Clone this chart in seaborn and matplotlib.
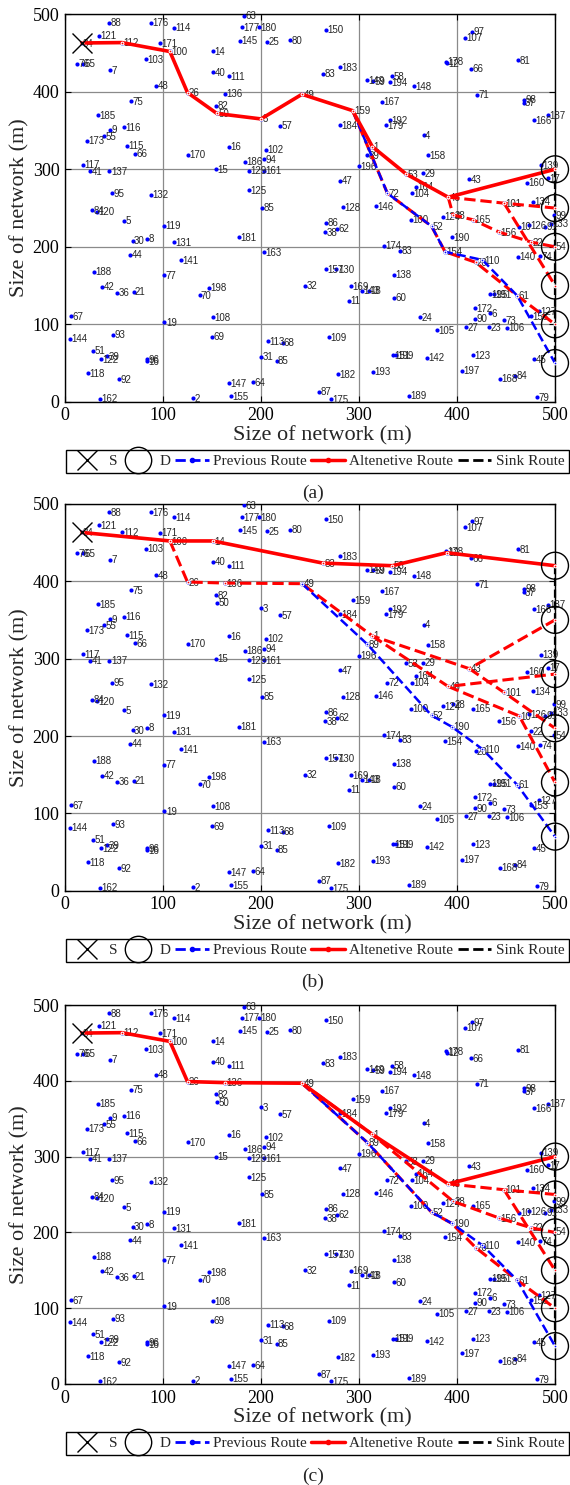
import matplotlib
matplotlib.use("Agg")
import matplotlib.pyplot as plt
import pandas as pd
import seaborn as sns
from matplotlib.lines import Line2D

sns.set_theme(style="ticks")
plt.rcParams["font.family"] = ["Liberation Serif", "DejaVu Serif"]
plt.rcParams["axes.edgecolor"] = "black"
plt.rcParams["axes.linewidth"] = 1.0

# ---- sensor nodes (id, x [m], y [m]) ----
node_ids = [
    "63", "88", "176", "114", "177", "180", "150", "97", "121", "107", "80", "145", "25", "34", "112",
    "171", "100", "14", "103", "81", "178", "12", "76", "65", "183", "66", "7", "40", "83", "111", "58",
    "149", "59", "194", "148", "48", "26", "136", "49", "71", "98", "75", "167", "37", "82", "159", "50",
    "185", "187", "3", "166", "192", "184", "179", "57", "116", "9", "4", "55", "173", "115", "1", "16",
    "102", "66", "170", "89", "158", "94", "186", "117", "139", "196", "15", "129", "161", "41", "137",
    "29", "53", "17", "43", "47", "160", "164", "125", "95", "104", "72", "132", "46", "134", "101",
    "146", "128", "85", "84", "120", "28", "99", "124", "100", "165", "5", "86", "133", "126", "119",
    "52", "91", "10", "62", "38", "156", "190", "181", "8", "30", "22", "131", "174", "54", "83", "154",
    "163", "44", "74", "140", "141", "110", "20", "157", "130", "188", "138", "77", "32", "169", "42",
    "198", "143", "18", "21", "36", "195", "191", "70", "61", "60", "11", "172", "127", "6", "153", "67",
    "24", "108", "90", "73", "19", "27", "23", "106", "105", "93", "69", "109", "144", "113", "68", "51",
    "151", "199", "123", "39", "31", "142", "122", "96", "45", "85", "16", "197", "193", "118", "182",
    "84", "168", "92", "64", "147", "87", "189", "155", "79", "2", "162", "175",
]
node_x = [
    183, 45, 88, 111.6, 181, 198, 266, 415, 34.5, 408.5, 229.6, 179, 206.5, 17, 58,
    96.6, 107, 151, 82.6, 462, 388.4, 389.5, 12.6, 18.8, 281, 414, 46, 151, 263, 167.6, 334,
    308.5, 314, 331.6, 356, 93, 125, 162.8, 241.8, 420, 468.7, 67, 323.8, 468, 154, 293.5, 155,
    33.4, 493, 200, 478.6, 331.6, 281, 327.6, 219.4, 60, 46, 366, 40, 22, 63.5, 313.6, 167,
    205, 71.7, 125, 308.5, 370.7, 203, 184, 18, 486, 300, 154, 187.7, 203, 25.6, 45.4,
    365.6, 348, 493, 412.6, 280.6, 471, 358, 187.7, 48, 354, 329, 88, 391, 477.9, 448,
    317, 284, 201.4, 28, 32.7, 396, 499, 386, 353.4, 416, 60.6, 266.3, 496, 473, 100.9,
    374, 490, 463.6, 278, 265.3, 443, 394.6, 177.5, 84, 69, 476, 111, 325.9, 499, 342, 387.8,
    203, 66.4, 484.7, 462.6, 117.9, 426, 419, 266.3, 277, 30, 335.7, 100.9, 245, 292, 38,
    146.8, 302.7, 310.5, 70, 53, 434, 438, 137.3, 461.4, 335.7, 290, 418.4, 484, 434, 475, 6,
    362.6, 150.6, 418.4, 448, 101.5, 409, 432.6, 451, 379.6, 48.7, 150, 269.7, 4.8, 207, 222, 29,
    335, 338, 416.7, 43, 200, 369.7, 36.8, 84, 478.6, 216, 84, 405.4, 314.6, 23, 279,
    459, 443.9, 55.5, 191.8, 167.6, 259, 351.4, 169, 482, 130.8, 36, 271.4,
]
node_y = [
    498, 489, 489, 482.8, 483, 483, 480, 477.6, 472.5, 470, 466.5, 466, 464.7, 463, 463.5,
    462.6, 452, 452, 442, 441, 439, 436.8, 436, 436, 432, 430, 428, 425, 423.4, 420, 420,
    415, 414, 412, 407, 408, 399, 397.6, 396.8, 396.3, 390, 388, 387, 386, 382, 375.7, 372,
    370, 369.7, 365, 363.6, 363.6, 357, 357, 356, 354, 351, 344, 343, 337, 330.5, 329.3, 329,
    325.5, 320, 319, 318.5, 318, 313, 310, 306, 305, 304, 300, 298, 298, 297.4, 297.4,
    294.8, 294, 288.4, 287, 285, 282.8, 277.6, 273, 269, 269, 269, 267, 264, 258, 256.3,
    252, 251, 250.6, 247, 245, 241, 240.8, 238.6, 235, 235, 233.5, 231, 230, 228, 227,
    226.6, 226, 225.8, 223.6, 219, 219, 212, 212, 210.7, 207.7, 206, 205.6, 201.3, 201, 195, 193.6,
    192.7, 190, 188, 187, 183, 183, 180, 171, 171, 167.8, 164, 163, 150, 149.4, 148.5,
    147.2, 143.3, 143.3, 142, 140.8, 138.6, 138.6, 137.8, 137, 134.3, 130.5, 120.6, 117.2, 114, 110.7, 110.3,
    109, 109, 107, 105.6, 102.6, 96, 96, 95.3, 92.7, 86.3, 83.7, 83.3, 81.5, 78, 76.4, 66,
    60, 60, 60, 59, 58, 56.7, 55, 55, 55, 53.2, 52.5, 40.3, 38.6, 37, 35.6,
    33.5, 30, 29, 25, 24, 13, 7.7, 7, 6, 4.3, 4, 3.4,
]

source_id = "34"
sink_x = 500

# ---- destinations on the sink line (y positions) ----
dest_y_a = [300, 250, 200, 150, 100, 50]
dest_y_b = [420, 350, 280, 210, 140, 70]
dest_y_c = [300, 250, 200, 150, 100, 50]

# ---- routes, as sequences of node ids ("D<y>" = destination) ----
alt_solid_a = ["34", "112", "100", "26", "50", "3", "49", "159", "1", "53", "46", "D300"]
alt_dashed_a = [["46", "101", "D250"], ["101", "D150"],
                ["46", "28", "165", "156", "22", "D200"],
                ["159", "72", "52", "154", "20", "61", "D100"]]
prev_a = ["159", "72", "52", "154", "110", "61", "D50"]
sink_a = ["D300", "D50"]

alt_solid_b = ["34", "100", "14", "83", "58", "12", "D420"]
alt_dashed_b = [["100", "26", "136", "49", "1", "43", "D350"], ["43", "101", "D210"],
                ["1", "46", "D280"], ["46", "10", "D140"]]
prev_b = ["49", "89", "52", "190", "110", "61", "D70"]
sink_b = ["D420", "D70"]

alt_solid_c = ["34", "112", "100", "26", "136", "49", "1", "46", "D300"]
alt_dashed_c = [["46", "101", "D250"], ["101", "D150"],
                ["49", "1", "28", "156", "22", "D200"],
                ["49", "89", "52", "190", "20", "61", "D100"]]
prev_c = ["49", "89", "52", "190", "110", "61", "D50"]
sink_c = ["D300", "D50"]

nodes = pd.DataFrame({"id": node_ids, "x": node_x, "y": node_y})
positions = {}
for nid, x, y in zip(node_ids, node_x, node_y):
    positions.setdefault(nid, (x, y))

BLUE = "#0000ff"
RED = "#ff0000"
FIG_W, FIG_H = 570, 1485


def route(ax, lookup, ids, **kw):
    pts = pd.DataFrame([lookup[i] for i in ids], columns=["x", "y"])
    sns.lineplot(data=pts, x="x", y="y", sort=False, estimator=None, ax=ax,
                 clip_on=False, **kw)


def panel(fig, top, bottom, dest_y, solid, dashed, prev, sink, caption):
    ax = fig.add_axes([65 / FIG_W, 1 - bottom / FIG_H, 490 / FIG_W, (bottom - top) / FIG_H])
    h = bottom - top
    lookup = dict(positions)
    for y in dest_y:
        lookup[f"D{y}"] = (sink_x, y)

    ax.grid(True, color="#8a8a8a", linewidth=0.9)
    ax.set_axisbelow(True)

    sns.scatterplot(data=nodes, x="x", y="y", ax=ax, color=BLUE, s=9,
                    linewidth=0, zorder=3, legend=False)
    for nid, x, y in zip(node_ids, node_x, node_y):
        ax.annotate(nid, (x, y), xytext=(1.0, -0.4), textcoords="offset points",
                    fontsize=7, family="Liberation Sans", ha="left", va="center",
                    zorder=4)

    route(ax, lookup, sink, color="black", linewidth=1.6, linestyle="--", zorder=5)
    for d in dashed:
        route(ax, lookup, d, color=RED, linewidth=2.2, linestyle="--",
              marker=".", markersize=4, zorder=6)
    route(ax, lookup, prev, color=BLUE, linewidth=1.8, linestyle="--",
          marker=".", markersize=4, zorder=7)
    route(ax, lookup, solid, color=RED, linewidth=2.6, linestyle="-",
          marker=".", markersize=4, zorder=8)

    ax.scatter([sink_x] * len(dest_y), dest_y, s=376, facecolors="none",
               edgecolors="black", linewidths=1.0, clip_on=False, zorder=9)
    sx, sy = positions[source_id]
    ax.scatter([sx], [sy], marker="x", s=207, color="black", linewidths=1.0,
               clip_on=False, zorder=9)

    ax.set_xlim(0, 500)
    ax.set_ylim(0, 500)
    ax.set_xticks(range(0, 501, 100))
    ax.set_yticks(range(0, 501, 100))
    ax.tick_params(direction="in", length=4, width=0.8, top=True, right=True,
                   labelsize=13, pad=4, colors="black")
    for s in ax.spines.values():
        s.set_visible(True)
        s.set_color("black")

    ax.set_xlabel("Size of network (m)", fontsize=16)
    ax.xaxis.label.set_va("center")
    ax.xaxis.set_label_coords(257 / 490, -34 / h)
    ax.set_ylabel("Size of network (m)", fontsize=16)
    ax.yaxis.label.set_va("center")
    ax.yaxis.set_label_coords(-45 / 490, 0.5)

    handles = [
        Line2D([0], [0], marker="x", color="black", linestyle="none", markersize=15, markeredgewidth=1),
        Line2D([0], [0], marker="o", color="black", linestyle="none", markersize=19,
               markerfacecolor="none", markeredgewidth=1),
        Line2D([0], [0], color=BLUE, linestyle="--", linewidth=2, marker=".", markersize=6),
        Line2D([0], [0], color=RED, linestyle="-", linewidth=2.5, marker=".", markersize=6),
        Line2D([0], [0], color="black", linestyle="--", linewidth=2),
    ]
    labels = ["S", "D", "Previous Route", "Altenetive Route", "Sink Route"]
    leg = fig.legend(handles, labels, loc="center", ncol=5, mode="expand",
                     bbox_to_anchor=(66 / FIG_W, 1 - (bottom + 73) / FIG_H, 503 / FIG_W, 27 / FIG_H),
                     fontsize=11, frameon=True, fancybox=False, edgecolor="black",
                     framealpha=1, borderpad=0.3, handlelength=2.2, handletextpad=0.3,
                     columnspacing=0.5, borderaxespad=0, numpoints=1)
    leg.get_frame().set_linewidth(1.0)

    fig.text(313 / FIG_W, 1 - (bottom + 92) / FIG_H, caption, ha="center", va="center",
             fontsize=14)
    return ax


fig = plt.figure(figsize=(FIG_W / 100, FIG_H / 100), dpi=100)
panel(fig, 14.3, 401.8, dest_y_a, alt_solid_a, alt_dashed_a, prev_a, sink_a, "(a)")
panel(fig, 503.8, 890.8, dest_y_b, alt_solid_b, alt_dashed_b, prev_b, sink_b, "(b)")
panel(fig, 1005, 1384, dest_y_c, alt_solid_c, alt_dashed_c, prev_c, sink_c, "(c)")
fig.savefig("out.png", dpi=100)
